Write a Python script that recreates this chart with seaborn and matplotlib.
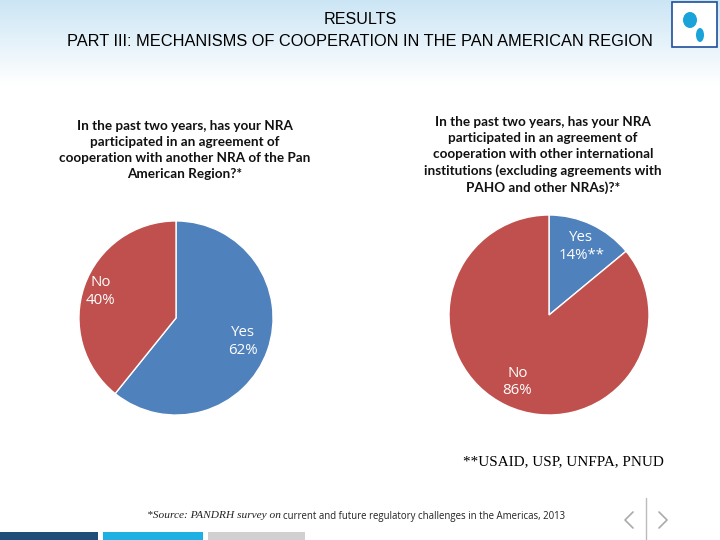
import numpy as np
import matplotlib
matplotlib.use("Agg")
import matplotlib.pyplot as plt
from matplotlib.patches import Rectangle, Ellipse
import seaborn as sns

sns.set_theme(style="white")

# ---- data ----
title_lines = ["RESULTS", "PART III: MECHANISMS OF COOPERATION IN THE PAN AMERICAN REGION"]
q1 = "In the past two years, has your NRA\nparticipated in an agreement of\ncooperation with another NRA of the Pan\nAmerican Region?*"
q2 = "In the past two years, has your NRA\nparticipated in an agreement of\ncooperation with other international\ninstitutions (excluding agreements with\nPAHO and other NRAs)?*"
pie1_categories = ["Yes", "No"]
pie1_values = [62, 40]
pie1_labels = ["62%", "40%"]
pie2_categories = ["Yes", "No"]
pie2_values = [14, 86]
pie2_labels = ["14%**", "86%"]
note = "**USAID, USP, UNFPA, PNUD"
source_a = "*Source: PANDRH survey on"
source_b = "current and future regulatory challenges in the Americas, 2013"

colors = {"Yes": "#4F81BD", "No": "#C0504D"}

W, H = 720, 540
fig = plt.figure(figsize=(7.2, 5.4), dpi=100)
fig.patch.set_facecolor("white")

bg = fig.add_axes([0, 0, 1, 1])
bg.axis("off")

# header gradient
grad = np.linspace(0, 1, 100).reshape(-1, 1)
top = np.array([0.80, 0.90, 0.96])
bot = np.array([1.0, 1.0, 1.0])
img = top[None, None, :] * (1 - grad[:, :, None]) + bot[None, None, :] * grad[:, :, None]
img = np.repeat(img, 2, axis=1)
bg.imshow(img, extent=[0, W, 85, 0], aspect="auto", zorder=0)
bg.set_xlim(0, W)
bg.set_ylim(H, 0)

bg.text(360, 20, title_lines[0], ha="center", va="center", fontsize=11.6,
        family="Liberation Sans", color="black")
bg.text(360, 41, title_lines[1], ha="center", va="center", fontsize=11.8,
        family="Liberation Sans", color="black")

# logo box
bg.add_patch(Rectangle((672, 2), 45, 45, facecolor="white", edgecolor="#1F4E9A", lw=1.2, zorder=2))
bg.add_patch(Ellipse((690, 20), 14, 16, facecolor="#1AA3D9", edgecolor="none", zorder=3))
bg.add_patch(Ellipse((700, 35), 8, 14, facecolor="#1AA3D9", edgecolor="none", zorder=3))

# question texts
bg.text(185, 150, q1, ha="center", va="center", fontsize=9.7, family="Lato",
        weight="bold", linespacing=1.4, color="#111111")
bg.text(543, 155, q2, ha="center", va="center", fontsize=9.7, family="Lato",
        weight="bold", linespacing=1.4, color="#111111")

# note
bg.text(463, 462, note, ha="left", va="center", fontsize=10.9, family="Liberation Serif", color="black")

# source
bg.text(147, 516, source_a, ha="left", va="center", fontsize=8.2, family="Liberation Serif",
        style="italic", color="#222222")
bg.text(283, 516, source_b, ha="left", va="center", fontsize=6.9, family="Open Sans", color="#222222")

# navigation arrows and divider
bg.plot([646, 646], [498, 540], color="#BBBBBB", lw=1)
bg.plot([633, 625, 633], [512, 520, 528], color="#AAAAAA", lw=1.2)
bg.plot([659, 667, 659], [512, 520, 528], color="#AAAAAA", lw=1.2)

# bottom bars
bg.add_patch(Rectangle((0, 532), 98, 8, facecolor="#1F4E79", edgecolor="none"))
bg.add_patch(Rectangle((103, 532), 100, 8, facecolor="#1CB0E3", edgecolor="none"))
bg.add_patch(Rectangle((208, 532), 97, 8, facecolor="#D0D0D0", edgecolor="none"))


def pie_axes(cx, cy, r):
    return fig.add_axes([(cx - r) / W, 1 - (cy + r) / H, 2 * r / W, 2 * r / H])


def draw_pie(ax, cats, vals, labs, dists):
    wedges, texts = ax.pie(vals, colors=[colors[c] for c in cats], startangle=90,
                           counterclock=False, labels=[f"{c}\n{l}" for c, l in zip(cats, labs)],
                           wedgeprops=dict(edgecolor="white", linewidth=1.0),
                           textprops=dict(color="white", fontsize=10.8, family="Open Sans",
                                          linespacing=1.25))
    for w, t, d in zip(wedges, texts, dists):
        mid = np.deg2rad((w.theta1 + w.theta2) / 2)
        t.set_position((d * np.cos(mid), d * np.sin(mid)))
        t.set_ha("center")
        t.set_va("center")
    ax.set_aspect("equal")
    ax.set_xlim(-1.02, 1.02)
    ax.set_ylim(-1.02, 1.02)
    ax.axis("off")


ax1 = pie_axes(176, 318, 99)
draw_pie(ax1, pie1_categories, pie1_values, pie1_labels, [0.73, 0.82])

ax2 = pie_axes(549, 315, 102)
draw_pie(ax2, pie2_categories, pie2_values, pie2_labels, [0.76, 0.74])

fig.savefig("out.png", dpi=100, facecolor="white")
